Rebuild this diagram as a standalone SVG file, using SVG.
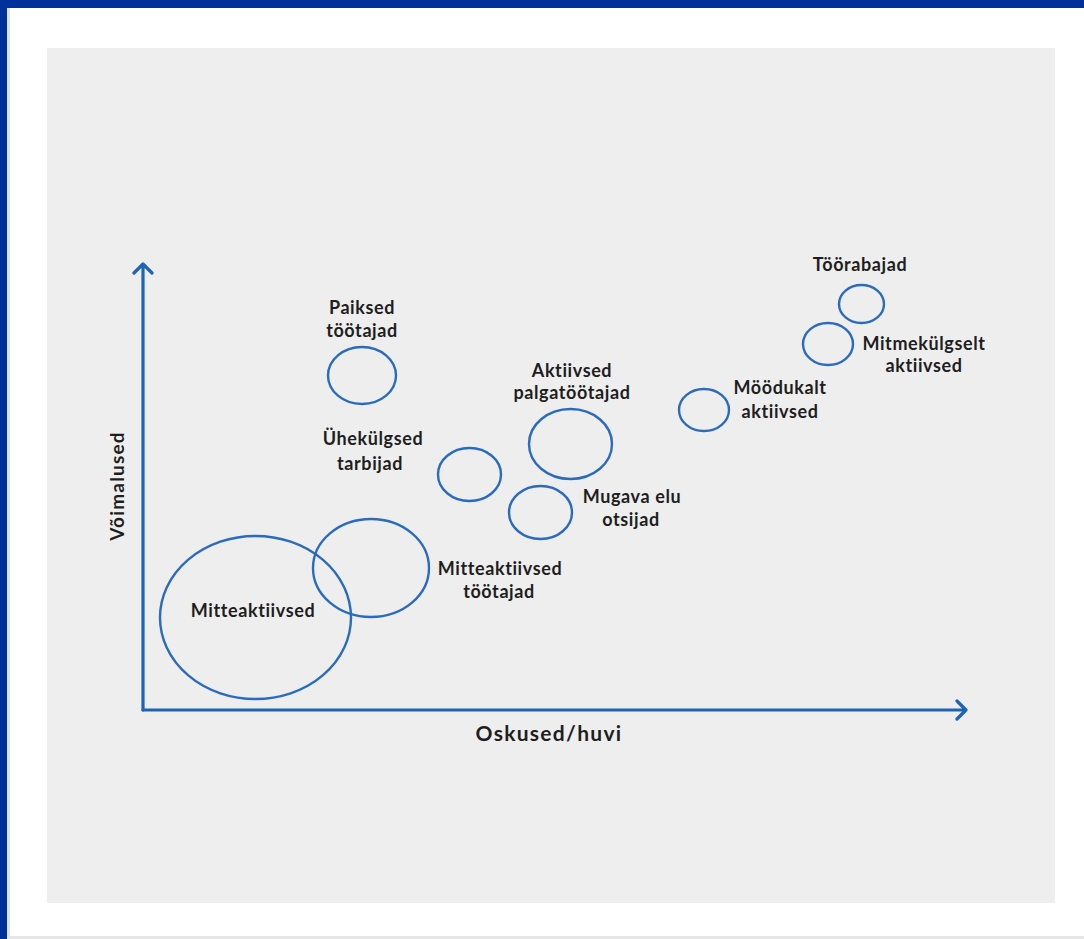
<svg xmlns="http://www.w3.org/2000/svg" width="1084" height="939" viewBox="0 0 1084 939">
<style>
.lbl{font-family:Lato,"Noto Sans","Liberation Sans",sans-serif;font-weight:bold;font-size:18px;letter-spacing:0.6px;fill:#1e1e1e;text-anchor:middle}
.axl{font-family:Lato,"Noto Sans","Liberation Sans",sans-serif;font-weight:bold;fill:#1e1e1e;text-anchor:middle}
.bub{fill:none;stroke:#2a6bbd;stroke-width:2.4}
.ax{fill:none;stroke:#1d63b8;stroke-width:3.2;stroke-linecap:round;stroke-linejoin:round}
</style>
<rect x="0" y="0" width="1084" height="939" fill="#ffffff"/>
<rect x="0" y="0" width="1084" height="8" fill="#00309a"/>
<rect x="0" y="0" width="7" height="939" fill="#00309a"/>
<rect x="7" y="8" width="3" height="931" fill="#e2e2e2"/>
<rect x="7" y="936" width="1077" height="3" fill="#e6e6e6"/>
<rect x="47" y="48" width="1008" height="855" fill="#eeeeee"/>
<g id="axes">
<path class="ax" d="M143,710 V264 M134,273 L143,264 L152,273"/>
<path class="ax" d="M143,710 H966 M957,701 L966,710 L957,719"/>
<text class="axl" x="549" y="741" font-size="21" letter-spacing="1.3">Oskused/huvi</text>
<text class="axl" transform="translate(124,486) rotate(-90)" font-size="19" letter-spacing="1.2">Võimalused</text>
</g>
<g id="mitteaktiivsed"><ellipse class="bub" cx="255.5" cy="617.5" rx="95.5" ry="81.5"/><text class="lbl" x="253" y="617">Mitteaktiivsed</text></g>
<g id="mitteaktiivsed-tootajad"><ellipse class="bub" cx="371" cy="568" rx="58" ry="49"/><text class="lbl" x="500" y="575">Mitteaktiivsed</text><text class="lbl" x="499" y="598">töötajad</text></g>
<g id="paiksed"><ellipse class="bub" cx="362" cy="375.5" rx="34" ry="28.5"/><text class="lbl" x="362" y="314">Paiksed</text><text class="lbl" x="362" y="337">töötajad</text></g>
<g id="uhekulgsed"><ellipse class="bub" cx="469.5" cy="474.5" rx="31.5" ry="26.5"/><text class="lbl" x="373" y="445">Ühekülgsed</text><text class="lbl" x="370" y="470">tarbijad</text></g>
<g id="aktiivsed-palgatootajad"><ellipse class="bub" cx="570.5" cy="444" rx="41.5" ry="35"/><text class="lbl" x="572" y="377">Aktiivsed</text><text class="lbl" x="572" y="399">palgatöötajad</text></g>
<g id="mugava"><ellipse class="bub" cx="540.5" cy="512.5" rx="31.5" ry="26.5"/><text class="lbl" x="632" y="503">Mugava elu</text><text class="lbl" x="631" y="526">otsijad</text></g>
<g id="moodukalt"><ellipse class="bub" cx="704" cy="410" rx="25" ry="21"/><text class="lbl" x="780" y="394">Möödukalt</text><text class="lbl" x="780" y="418">aktiivsed</text></g>
<g id="toorabajad"><ellipse class="bub" cx="861.5" cy="304" rx="22.5" ry="19"/><text class="lbl" x="860" y="271">Töörabajad</text></g>
<g id="mitmekulgselt"><ellipse class="bub" cx="828" cy="344" rx="25" ry="21"/><text class="lbl" x="924" y="350">Mitmekülgselt</text><text class="lbl" x="924" y="372">aktiivsed</text></g>
</svg>
